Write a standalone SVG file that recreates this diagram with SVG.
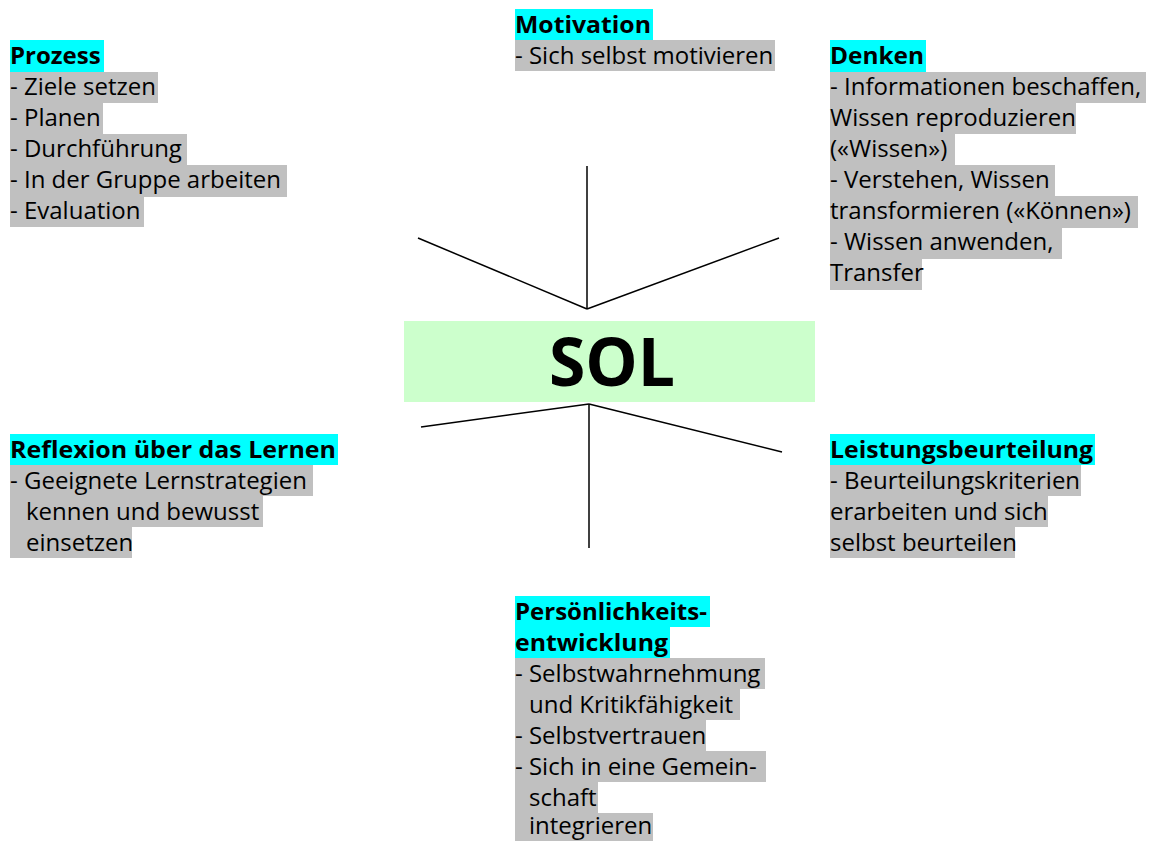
<svg xmlns="http://www.w3.org/2000/svg" width="1150" height="841" viewBox="0 0 1150 841">
<style>
.t{font-family:"Open Sans","Noto Sans",sans-serif;font-size:24px;fill:#000}
.h{font-weight:bold}
.cy{fill:#00ffff}
.gr{fill:#c0c0c0}
.ln{stroke:#000;stroke-width:1.5;fill:none}
</style>
<rect width="1150" height="841" fill="#fff"/>
<g id="prozess">
<rect class="cy" x="10" y="40" width="94" height="32"/>
<rect class="gr" x="10" y="72" width="148" height="31"/>
<rect class="gr" x="10" y="103" width="93" height="31"/>
<rect class="gr" x="10" y="134" width="177" height="31"/>
<rect class="gr" x="10" y="165" width="277" height="32"/>
<rect class="gr" x="10" y="197" width="134" height="30"/>
<text class="t h" x="10" y="64">Prozess</text>
<text class="t" x="10" y="95">- Ziele setzen</text>
<text class="t" x="10" y="126">- Planen</text>
<text class="t" x="10" y="157">- Durchführung</text>
<text class="t" x="10" y="188">- In der Gruppe arbeiten</text>
<text class="t" x="10" y="219">- Evaluation</text>
</g>
<g id="motivation">
<rect class="cy" x="515" y="9" width="138" height="31"/>
<rect class="gr" x="515" y="40" width="260" height="31"/>
<text class="t h" x="515" y="33" textLength="136" lengthAdjust="spacingAndGlyphs">Motivation</text>
<text class="t" x="515" y="64">- Sich selbst motivieren</text>
</g>
<g id="denken">
<rect class="cy" x="830" y="40" width="96" height="32"/>
<rect class="gr" x="830" y="72" width="316" height="31"/>
<rect class="gr" x="830" y="103" width="246" height="31"/>
<rect class="gr" x="830" y="134" width="125" height="31"/>
<rect class="gr" x="830" y="165" width="225" height="31"/>
<rect class="gr" x="830" y="196" width="308" height="32"/>
<rect class="gr" x="830" y="228" width="232" height="31"/>
<rect class="gr" x="830" y="259" width="92" height="31"/>
<text class="t h" x="830" y="64" textLength="94" lengthAdjust="spacingAndGlyphs">Denken</text>
<text class="t" x="830" y="95">- Informationen beschaffen,</text>
<text class="t" x="830" y="126">Wissen reproduzieren</text>
<text class="t" x="830" y="157">(«Wissen»)</text>
<text class="t" x="830" y="188">- Verstehen, Wissen</text>
<text class="t" x="830" y="219">transformieren («Können»)</text>
<text class="t" x="830" y="250">- Wissen anwenden,</text>
<text class="t" x="830" y="281">Transfer</text>
</g>
<g id="sol">
<rect x="404" y="321" width="411" height="81" fill="#ccffcc"/>
<text x="612" y="386" text-anchor="middle" font-family="Open Sans,Noto Sans,sans-serif" font-size="66" font-weight="bold">SOL</text>
</g>
<g id="reflexion">
<rect class="cy" x="10" y="434" width="328" height="31"/>
<rect class="gr" x="10" y="465" width="303" height="31"/>
<rect class="gr" x="10" y="496" width="253" height="31"/>
<rect class="gr" x="10" y="527" width="122" height="31"/>
<text class="t h" x="10" y="458" textLength="326" lengthAdjust="spacingAndGlyphs">Reflexion über das Lernen</text>
<text class="t" x="10" y="489">- Geeignete Lernstrategien</text>
<text class="t" x="26" y="520">kennen und bewusst</text>
<text class="t" x="26" y="551">einsetzen</text>
</g>
<g id="leistung">
<rect class="cy" x="830" y="434" width="265" height="31"/>
<rect class="gr" x="830" y="465" width="251" height="31"/>
<rect class="gr" x="830" y="496" width="218" height="31"/>
<rect class="gr" x="830" y="527" width="185" height="31"/>
<text class="t h" x="830" y="458" textLength="263" lengthAdjust="spacingAndGlyphs">Leistungsbeurteilung</text>
<text class="t" x="830" y="489">- Beurteilungskriterien</text>
<text class="t" x="830" y="520">erarbeiten und sich</text>
<text class="t" x="830" y="551">selbst beurteilen</text>
</g>
<g id="persoenlichkeit">
<rect class="cy" x="515" y="596" width="195" height="31"/>
<rect class="cy" x="515" y="627" width="155" height="31"/>
<rect class="gr" x="515" y="658" width="250" height="31"/>
<rect class="gr" x="515" y="689" width="225" height="31"/>
<rect class="gr" x="515" y="720" width="191" height="31"/>
<rect class="gr" x="515" y="751" width="251" height="31"/>
<rect class="gr" x="515" y="782" width="83" height="31"/>
<rect class="gr" x="515" y="813" width="138" height="28"/>
<text class="t h" x="515" y="620">Persönlichkeits-</text>
<text class="t h" x="515" y="651" textLength="153" lengthAdjust="spacingAndGlyphs">entwicklung</text>
<text class="t" x="515" y="682">- Selbstwahrnehmung</text>
<text class="t" x="529" y="713">und Kritikfähigkeit</text>
<text class="t" x="515" y="744">- Selbstvertrauen</text>
<text class="t" x="515" y="775">- Sich in eine Gemein-</text>
<text class="t" x="529" y="806">schaft</text>
<text class="t" x="529" y="834">integrieren</text>
</g>
<g id="connectors">
<line class="ln" x1="587" y1="166" x2="587" y2="309"/>
<line class="ln" x1="418" y1="238" x2="587" y2="309"/>
<line class="ln" x1="587" y1="309" x2="779" y2="238"/>
<line class="ln" x1="589" y1="404" x2="589" y2="548"/>
<line class="ln" x1="421" y1="427" x2="589" y2="404"/>
<line class="ln" x1="589" y1="404" x2="782" y2="452"/>
</g>
</svg>
